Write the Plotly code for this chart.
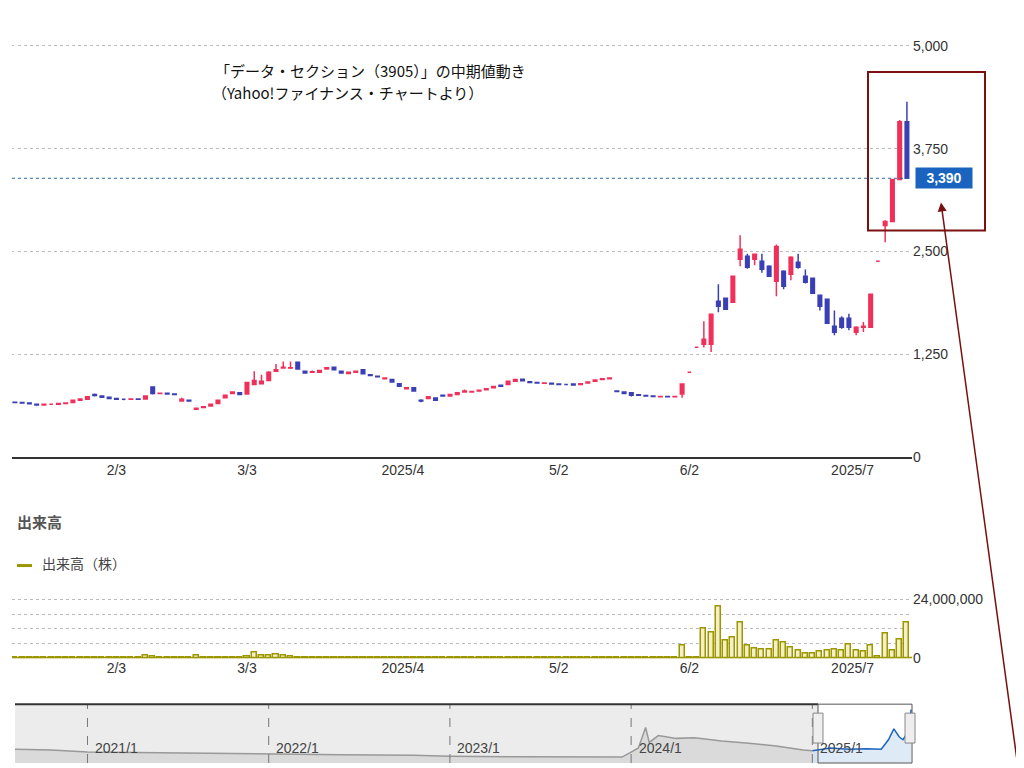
import plotly.graph_objects as go

# ---- data ----
opens = [665,660,655,640,630,640,640,650,660,690,700,760,740,725,710,700,700,705,705,850,770,775,765,680,690,580,600,620,650,720,
         770,780,765,880,890,930,1040,1080,1080,1150,1040,1030,1030,1070,1090,1040,1015,1030,1060,1000,980,950,940,890,830,840,690,710,715,750,
         740,760,790,790,800,815,840,870,880,920,945,915,905,895,895,885,880,885,880,900,920,940,950,800,790,780,755,745,740,730,
         735,730,765,1030,1335,1370,1370,1894,1930,1882,2404,2440,2404,2380,2318,2136,2258,2221,2367,2197,2173,1967,1918,1590,1687,1687,1517,1578,1578,2380,
         2816,2865,3375,4079]
highs = [670,662,658,645,645,645,655,660,695,710,735,770,745,730,715,705,710,710,740,860,780,780,770,720,695,595,615,645,695,755,
         795,785,910,1040,1000,1040,1130,1160,1160,1160,1045,1050,1060,1090,1095,1045,1035,1045,1065,1005,985,965,945,895,845,845,700,735,720,755,
         765,785,820,800,815,835,860,875,925,945,950,920,910,905,900,890,885,890,895,915,940,955,965,805,795,785,760,750,745,740,
         740,740,890,1030,1335,1650,1740,2100,1940,2200,2695,2470,2470,2470,2330,2585,2270,2440,2470,2280,2180,1975,1925,1780,1710,1740,1590,1640,1985,2380,
         2880,3380,4100,4320]
lows = [655,650,640,625,625,632,636,645,655,685,695,735,720,705,695,690,695,695,700,760,765,765,755,675,675,575,595,615,645,715,
        765,755,760,870,880,925,1035,1075,1070,1060,1015,1025,1025,1065,1055,1015,1010,1025,1005,985,970,945,905,855,825,795,665,705,685,735,
        735,755,785,785,795,810,835,855,875,915,920,900,895,890,880,875,875,870,875,895,915,935,945,790,765,735,745,735,730,725,
        725,725,720,1030,1335,1330,1275,1760,1790,1880,2318,2290,2330,2240,2190,1955,2040,2150,2290,2110,1985,1780,1620,1480,1560,1540,1480,1520,1575,2380,
        2610,2860,3370,3380]
closes = [660,655,645,630,640,640,650,655,690,705,730,745,725,710,700,700,705,700,740,770,775,765,760,700,680,590,610,640,690,750,
          790,760,905,930,920,1030,1060,1090,1085,1070,1020,1035,1050,1085,1060,1020,1030,1040,1010,990,975,960,910,860,840,800,680,730,690,740,
          760,780,800,795,810,830,855,860,920,940,925,905,900,900,885,880,880,875,890,910,935,950,960,795,770,750,750,740,735,735,
          730,735,886,1030,1335,1430,1736,1833,1797,2197,2525,2306,2465,2282,2197,2561,2075,2428,2306,2124,1991,1833,1627,1517,1578,1578,1578,1590,1979,2380,
          2865,3375,4079,3390]
volumes_m = [0.3,0.2,0.3,0.2,0.3,0.2,0.3,0.4,0.3,0.3,0.4,0.5,0.3,0.3,0.2,0.3,0.3,0.2,1.0,0.9,0.3,0.3,0.2,0.3,0.3,1.0,0.4,0.3,0.4,0.5,
             0.5,0.4,0.8,2.5,1.2,1.2,1.4,1.0,0.6,0.4,0.3,0.3,0.3,0.2,0.3,0.3,0.2,0.2,0.3,0.2,0.2,0.2,0.2,0.3,0.2,0.2,0.3,0.2,0.2,0.2,
             0.2,0.3,0.2,0.2,0.2,0.3,0.2,0.2,0.4,0.3,0.2,0.2,0.2,0.2,0.2,0.2,0.2,0.2,0.2,0.2,0.2,0.2,0.2,0.3,0.2,0.2,0.2,0.2,0.4,0.3,
             0.2,0.2,5.4,0.3,0.5,12,10.6,21,7.4,8.3,14.5,5.2,4.1,3.5,3.7,7.4,6.6,4.5,3.0,2.0,2.0,2.6,3.3,3.7,3.0,5.7,3.3,2.6,5.1,0.6,
             10,3.3,7.8,14.5]
tick_pos = [14, 32, 53.5, 75, 93, 115.5]
tick_text = ["2/3", "3/3", "2025/4", "5/2", "6/2", "2025/7"]
last_price = 3390

nav_years = [2020.6,2020.8,2021.0,2021.3,2021.6,2022.0,2022.4,2022.8,2023.0,2023.4,2023.7,2023.95,2024.0,2024.04,2024.08,2024.1,
             2024.15,2024.25,2024.35,2024.5,2024.65,2024.8,2024.95,2025.0]
nav_vals = [1000,950,800,750,720,650,600,560,500,450,420,430,800,1100,2600,1500,2000,1800,1850,1600,1450,1250,950,900]
sel_years = [2025.0,2025.1,2025.2,2025.3,2025.38,2025.42,2025.45,2025.48,2025.5,2025.53,2025.545]
sel_vals = [900,1100,1000,1050,1000,1700,2500,1900,1700,2300,3900]
nav_grid = [2021, 2022, 2023, 2024, 2025]
nav_labels = ["2021/1", "2022/1", "2023/1", "2024/1", "2025/1"]

# ---- layout helpers ----
OFF = 8
ML, MR, MT, MB, W, H = 4, 120, 22, 10, 1024, 768
PW, PH = W - ML - MR, H - MT - MB
def px(x): return (x - OFF - ML) / PW
def py(y): return (H - MB - (y - OFF)) / PH

idx = list(range(len(closes)))
fig = go.Figure()
fig.add_trace(go.Candlestick(x=idx, open=opens, high=highs, low=lows, close=closes,
    increasing=dict(line=dict(color="#f0305a", width=1.5), fillcolor="#f0305a"),
    decreasing=dict(line=dict(color="#3a3fb5", width=1.5), fillcolor="#3a3fb5"),
    whiskerwidth=0, showlegend=False, xaxis="x", yaxis="y"))
vols = [v * 1e6 for v in volumes_m]
fig.add_trace(go.Bar(x=idx, y=vols, marker=dict(color="#f4f0c4", line=dict(color="#9c9600", width=1.5)),
    width=0.7, showlegend=False, xaxis="x2", yaxis="y2"))
fig.add_trace(go.Scatter(x=nav_years, y=nav_vals, mode="lines", line=dict(color="#999", width=1.5),
    fill="tozeroy", fillcolor="rgba(200,200,200,0.5)", showlegend=False, xaxis="x3", yaxis="y3"))
fig.add_trace(go.Scatter(x=sel_years, y=sel_vals, mode="lines", line=dict(color="#1c64c0", width=1.5),
    fill="tozeroy", fillcolor="rgba(190,215,240,0.5)", showlegend=False, xaxis="x3", yaxis="y3"))

xr = [-0.4, 123.7]
num_font = dict(family="Liberation Sans, Arial", size=14, color="#333")
fig.update_layout(
    width=W, height=H, margin=dict(l=ML, r=MR, t=MT, b=MB),
    paper_bgcolor="white", plot_bgcolor="white", bargap=0,
    xaxis=dict(domain=[0, 1], range=xr, tickvals=tick_pos, ticktext=tick_text, showgrid=False,
               rangeslider=dict(visible=False), showline=True, linecolor="#333", linewidth=1.5,
               ticks="", tickfont=num_font, anchor="y"),
    yaxis=dict(domain=[py(458), py(30)], range=[0, 5194], side="right", tickvals=[0, 1250, 2500, 3750, 5000],
               tickformat=",", gridcolor="#bbb", griddash="dot", zeroline=False, tickfont=num_font, ticks="",
               anchor="x"),
    xaxis2=dict(domain=[0, 1], range=xr, tickvals=tick_pos, ticktext=tick_text, showgrid=False,
                showline=False, ticks="", tickfont=num_font, anchor="y2"),
    yaxis2=dict(domain=[py(660), py(595)], range=[0, 26.4e6], side="right",
                tickvals=[0, 6e6, 12e6, 18e6, 24e6], ticktext=["0", "", "", "", "24,000,000"],
                gridcolor="#bbb", griddash="dot", zeroline=False, tickfont=num_font, ticks="", anchor="x2"),
    xaxis3=dict(domain=[px(15), px(912)], range=[2020.6, 2025.55], showgrid=False, showticklabels=False,
                anchor="y3"),
    yaxis3=dict(domain=[py(765), py(706)], range=[0, 4300], showgrid=False, showticklabels=False,
                zeroline=False, anchor="x3"),
    font=dict(family="Noto Sans CJK JP"),
)
def note(x, y, text, size, color, xanchor="left", **kw):
    fig.add_annotation(xref="paper", yref="paper", x=px(x), y=py(y), text=text, showarrow=False,
                       xanchor=xanchor, yanchor="middle", font=dict(size=size, color=color), **kw)

fig.add_shape(type="line", xref="paper", yref="y2", x0=0, x1=1, y0=0, y1=0, line=dict(color="#9c9600", width=3))
fig.add_shape(type="line", xref="paper", yref="y", x0=0, x1=1, y0=last_price, y1=last_price,
              line=dict(color="#2a6a9a", width=1, dash="dot"))
fig.add_annotation(xref="paper", yref="y", x=px(944), y=last_price, text=f"<b>{last_price:,}</b>", showarrow=False,
                   xanchor="center", yanchor="middle",
                   bgcolor="#1a64c0", font=dict(color="white", size=14, family="Liberation Sans, Arial"),
                   borderpad=2, width=52)
for g, lab in zip(nav_grid, nav_labels):
    fig.add_shape(type="line", xref="x3", yref="paper", x0=g, x1=g, y0=py(765), y1=py(706),
                  line=dict(color="#777", width=1, dash="dash"))
    fig.add_annotation(xref="x3", yref="paper", x=g + 0.03, y=py(750), text=lab, showarrow=False, xanchor="left",
                       yanchor="middle", font=dict(size=14, color="#444", family="Liberation Sans, Arial"))
fig.add_shape(type="rect", xref="paper", yref="paper", x0=px(15), x1=px(818), y0=py(765), y1=py(706),
              fillcolor="rgba(180,180,180,0.25)", line=dict(width=0), layer="below")
fig.add_shape(type="line", xref="paper", yref="paper", x0=px(15), x1=px(818), y0=py(706), y1=py(706),
              line=dict(color="#333", width=2))
fig.add_shape(type="rect", xref="paper", yref="paper", x0=px(818), x1=px(912), y0=py(765), y1=py(706),
              line=dict(color="#555", width=1))
for hx in (818, 910):
    fig.add_shape(type="rect", xref="paper", yref="paper", x0=px(hx - 5), x1=px(hx + 5), y0=py(745), y1=py(715),
                  fillcolor="#eee", line=dict(color="#888", width=1))
note(15, 523, "<b>出来高</b>", 15, "#555")
fig.add_shape(type="line", xref="paper", yref="paper", x0=px(17), x1=px(32), y0=py(567), y1=py(567),
              line=dict(color="#9c9600", width=3))
note(40, 564, "出来高（株）", 14, "#444")
note(370, 71, "「データ・セクション（3905）」の中期値動き", 15, "#111", xanchor="center")
note(347, 93, "（Yahoo!ファイナンス・チャートより）", 15, "#111", xanchor="center")
fig.add_shape(type="rect", xref="paper", yref="paper", x0=px(868), x1=px(985), y0=py(231), y1=py(72),
              line=dict(color="#7a1010", width=2))
fig.add_annotation(xref="paper", yref="paper", x=px(941), y=py(203), ax=77, ay=565, text="", showarrow=True,
                   arrowhead=2, arrowsize=1.2, arrowwidth=1.5, arrowcolor="#7a1010")
fig.write_html("out.html")
